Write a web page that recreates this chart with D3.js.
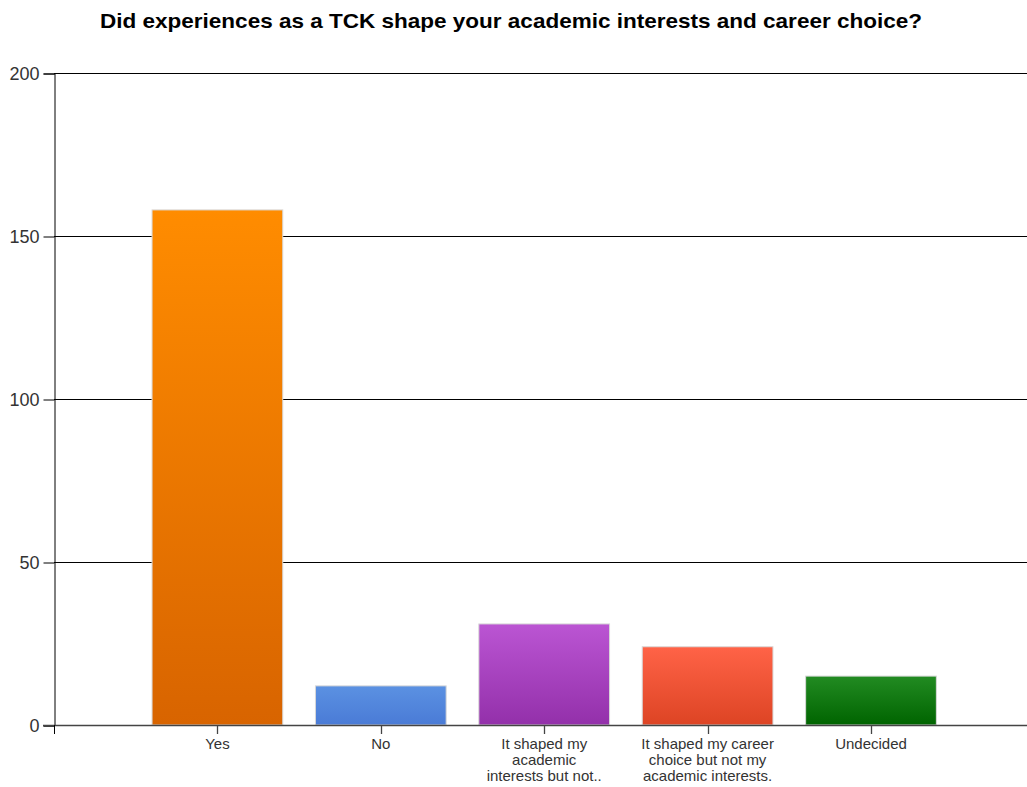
<!DOCTYPE html>
<html><head><meta charset="utf-8">
<script src="https://cdn.jsdelivr.net/npm/d3@7"></script>
<style>body{margin:0;background:#fff}svg{display:block}</style>
</head><body><svg id="c" width="1027" height="787"></svg>
<script>
const categories = ["Yes","No","It shaped my academic interests but not...","It shaped my career choice but not my academic interests.","Undecided"];
const labelLines = [["Yes"],["No"],["It shaped my","academic","interests but not.."],["It shaped my career","choice but not my","academic interests."],["Undecided"]];
const values = [158, 12, 31, 24, 15];
const yTicks = [0, 50, 100, 150, 200];
const colorsTop = ["#ff8c00","#5b91e2","#bb55d3","#ff6347","#228b22"];
const colorsBot = ["#d86400","#4a7bd6","#9330aa","#dd4424","#006400"];

const svg = d3.select("#c");
const mLeft = 54, mRight = 1034.4, mTop = 73, mBottom = 725;
const x = d3.scaleLinear().domain([0, 6]).range([mLeft, mRight]);
const y = d3.scaleLinear().domain([0, 200]).range([mBottom, mTop]);
const bw = (x(1) - x(0)) * 0.8;

const defs = svg.append("defs");
categories.forEach((c, i) => {
  const g = defs.append("linearGradient").attr("id", "g" + i).attr("x1", 0).attr("y1", 0).attr("x2", 0).attr("y2", 1);
  g.append("stop").attr("offset", "0%").attr("stop-color", colorsTop[i]);
  g.append("stop").attr("offset", "100%").attr("stop-color", colorsBot[i]);
});

svg.append("text").attr("x", 511).attr("y", 28).attr("text-anchor", "middle")
  .attr("font-family", "Liberation Sans, Arial, sans-serif").attr("font-weight", "bold").attr("font-size", 21)
  .attr("textLength", 822).attr("lengthAdjust", "spacingAndGlyphs")
  .attr("fill", "#000").text("Did experiences as a TCK shape your academic interests and career choice?");

// gridlines
svg.append("g").selectAll("line").data(yTicks.filter(d => d > 0)).join("line")
  .attr("x1", mLeft).attr("x2", 1027).attr("y1", d => Math.round(y(d)) + 0.5).attr("y2", d => Math.round(y(d)) + 0.5)
  .attr("stroke", "#000").attr("stroke-width", 1);

// y axis
const ya = svg.append("g").attr("transform", `translate(${mLeft + 0.5},0.5)`)
  .call(d3.axisLeft(y).tickValues(yTicks).tickSize(11).tickPadding(4).tickFormat(d3.format("d")));
ya.select(".domain").attr("stroke", "#000");
ya.selectAll(".tick line").attr("stroke", "#000");
ya.selectAll("text").attr("font-family", "Liberation Sans, Arial, sans-serif").attr("font-size", 18).attr("fill", "#333");

// bars
svg.append("g").selectAll("rect").data(values).join("rect")
  .attr("x", (d, i) => x(i + 1) - bw / 2).attr("width", bw)
  .attr("y", d => y(d)).attr("height", d => y(0) - y(d))
  .attr("fill", (d, i) => `url(#g${i})`).attr("stroke", "#d8d8d8").attr("stroke-width", 1);

// x axis line
svg.append("line").attr("x1", mLeft - 11).attr("x2", 1027).attr("y1", mBottom + 0.5).attr("y2", mBottom + 0.5).attr("stroke", "#444").attr("stroke-width", 1.3);
svg.append("line").attr("x1", mLeft + 0.5).attr("x2", mLeft + 0.5).attr("y1", mBottom).attr("y2", mBottom + 9).attr("stroke", "#000");
const xa = svg.append("g").attr("transform", `translate(0,${mBottom})`);
categories.forEach((c, i) => {
  const cx = Math.round(x(i + 1)) + 0.5;
  xa.append("line").attr("x1", cx).attr("x2", cx).attr("y1", 0).attr("y2", 9).attr("stroke", "#444").attr("stroke-width", 1.3);
  const t = xa.append("text").attr("x", x(i + 1)).attr("y", 24).attr("text-anchor", "middle")
    .attr("font-family", "Liberation Sans, Arial, sans-serif").attr("font-size", 15).attr("fill", "#333");
  labelLines[i].forEach((l, j) => t.append("tspan").attr("x", x(i + 1)).attr("dy", j === 0 ? 0 : 16).text(l));
});
</script></body></html>
